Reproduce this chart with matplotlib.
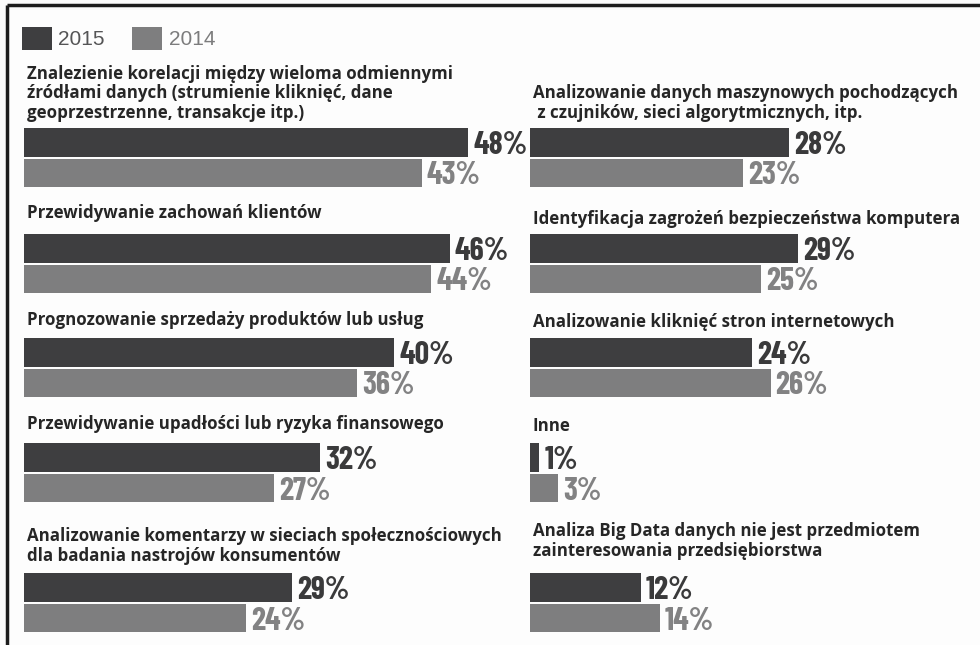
import matplotlib
matplotlib.use('Agg')
import matplotlib.pyplot as plt
from matplotlib import font_manager
from matplotlib.lines import Line2D

# Survey answers, share of companies (%)
left_titles = [
    'Znalezienie korelacji między wieloma odmiennymi\nźródłami danych (strumienie kliknięć, dane\ngeoprzestrzenne, transakcje itp.)',
    'Przewidywanie zachowań klientów',
    'Prognozowanie sprzedaży produktów lub usług',
    'Przewidywanie upadłości lub ryzyka finansowego',
    'Analizowanie komentarzy w sieciach społecznościowych\ndla badania nastrojów konsumentów',
]
left_2015 = [48, 46, 40, 32, 29]
left_2014 = [43, 44, 36, 27, 24]

right_titles = [
    'Analizowanie danych maszynowych pochodzących\n z czujników, sieci algorytmicznych, itp.',
    'Identyfikacja zagrożeń bezpieczeństwa komputera',
    'Analizowanie kliknięć stron internetowych',
    'Inne',
    'Analiza Big Data danych nie jest przedmiotem\nzainteresowania przedsiębiorstwa',
]
right_2015 = [28, 29, 24, 1, 12]
right_2014 = [23, 25, 26, 3, 14]

years = ['2015', '2014']

W, H = 980, 645
DARK = '#3e3e40'
LIGHT = '#7e7e7f'
DARK_TXT = '#3a3a3b'
LIGHT_TXT = '#828283'
TITLE_TXT = '#262626'

installed = {f.name for f in font_manager.fontManager.ttflist}


def pick(*names):
    for n in names:
        if n in installed:
            return n
    return 'DejaVu Sans'


NUM_FONT = pick('Barlow Condensed', 'Roboto Condensed', 'Archivo Narrow', 'PT Sans Narrow')
TITLE_FONT = pick('Open Sans', 'Noto Sans', 'Lato')
LEGEND_FONT = pick('Liberation Sans', 'Arimo')

# layout in pixels (y grows downward)
px_per_pct = 9.25
group_tops = [128, 234, 338, 443, 573]
bar_h = 29
bar_step = 31
# space between the bottom of each heading and its bars
title_gaps = {'left': [6, 12, 9, 10, 8], 'right': [6, 6, 7, 8, 13]}

fig = plt.figure(figsize=(W / 100, H / 100), dpi=100, facecolor='#fdfdfd')


def column(x0, xmax, titles, v15, v14, side):
    width = xmax * px_per_pct
    ax = fig.add_axes([x0 / W, 0, width / W, 1])
    ax.set_xlim(0, xmax)
    ax.set_ylim(H, 0)
    ax.axis('off')

    c15 = [t + bar_h / 2 for t in group_tops]
    c14 = [t + bar_step + (bar_h - 1) / 2 for t in group_tops]
    b15 = ax.barh(c15, v15, height=bar_h, color=DARK, label=years[0])
    b14 = ax.barh(c14, v14, height=bar_h - 1, color=LIGHT, label=years[1])

    pad = 5 / px_per_pct
    for y, v in zip(c15, v15):
        ax.text(v + pad, y, f'{v}%', ha='left', va='center_baseline', fontsize=23,
                family=NUM_FONT, weight='bold', color=DARK_TXT)
    for y, v in zip(c14, v14):
        ax.text(v + pad, y, f'{v}%', ha='left', va='center_baseline', fontsize=23,
                family=NUM_FONT, weight='bold', color=LIGHT_TXT)

    for t, gap, title in zip(group_tops, title_gaps[side], titles):
        ax.text(0.3, t - gap, title, ha='left', va='bottom', fontsize=12.2,
                family=TITLE_FONT, weight='bold', color=TITLE_TXT, linespacing=1.12)
    return ax, b15, b14


ax_l, h15, h14 = column(24, 50, left_titles, left_2015, left_2014, 'left')
ax_r, _, _ = column(530, 48, right_titles, right_2015, right_2014, 'right')

leg = fig.legend(handles=[h15, h14], labels=years, loc='upper left',
                 bbox_to_anchor=(22 / W, 1 - 27 / H), frameon=False, ncol=2,
                 handlelength=1.45, handleheight=1.3, handletextpad=0.3,
                 columnspacing=1.3, borderpad=0, borderaxespad=0,
                 prop={'family': LEGEND_FONT, 'size': 15})
for txt, col in zip(leg.get_texts(), ['#555556', '#7c7c7d']):
    txt.set_color(col)

# frame: top and left rule
fig.add_artist(Line2D([7 / W, 7 / W], [0, 1 - 5 / H], transform=fig.transFigure,
                      color='#1e1e1e', lw=2.5, solid_capstyle='butt'))
fig.add_artist(Line2D([7 / W, 1], [1 - 5 / H, 1 - 5 / H], transform=fig.transFigure,
                      color='#1e1e1e', lw=2.5, solid_capstyle='butt'))

fig.savefig('out.png', dpi=100, facecolor=fig.get_facecolor())
